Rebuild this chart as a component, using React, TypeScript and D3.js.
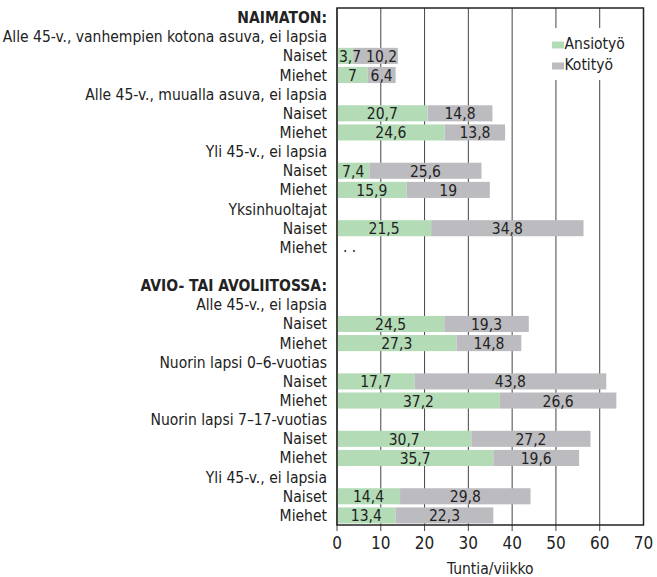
import React from 'react';
import * as d3 from 'd3';

const labels = [
  'NAIMATON:',
  'Alle 45-v., vanhempien kotona asuva, ei lapsia',
  'Naiset', 'Miehet',
  'Alle 45-v., muualla asuva, ei lapsia',
  'Naiset', 'Miehet',
  'Yli 45-v., ei lapsia',
  'Naiset', 'Miehet',
  'Yksinhuoltajat',
  'Naiset', 'Miehet',
  '',
  'AVIO- TAI AVOLIITOSSA:',
  'Alle 45-v., ei lapsia',
  'Naiset', 'Miehet',
  'Nuorin lapsi 0–6-vuotias',
  'Naiset', 'Miehet',
  'Nuorin lapsi 7–17-vuotias',
  'Naiset', 'Miehet',
  'Yli 45-v., ei lapsia',
  'Naiset', 'Miehet',
];
const headerRows = [0, 14];
const missingRows = [12];

const ansiotyo: (number | null)[] = [
  null, null, 3.7, 7, null, 20.7, 24.6, null, 7.4, 15.9, null, 21.5, null, null,
  null, null, 24.5, 27.3, null, 17.7, 37.2, null, 30.7, 35.7, null, 14.4, 13.4,
];
const kotityo: (number | null)[] = [
  null, null, 10.2, 6.4, null, 14.8, 13.8, null, 25.6, 19, null, 34.8, null, null,
  null, null, 19.3, 14.8, null, 43.8, 26.6, null, 27.2, 19.6, null, 29.8, 22.3,
];
const ticks = [0, 10, 20, 30, 40, 50, 60, 70];
const seriesNames = ['Ansiotyö', 'Kotityö'];
const colors = ['#b3dbb6', '#bcbcc0'];

const W = 657, H = 577;
const FONT = '"DejaVu Sans Condensed", "Liberation Sans Narrow", sans-serif';
const fmt = (v: number) => String(v).replace('.', ',');
// rough text width for value labels at 15.5px
const textW = (s: string) => s.split('').reduce((w, c) => w + (c === ',' ? 4.5 : 8.8), 0);

export default function App() {
  const x = d3.scaleLinear().domain([0, 70]).range([337, 643.5]);
  const y = d3.scaleBand<number>().domain(labels.map((_, i) => i)).range([8, 525]).paddingInner(0.16).paddingOuter(0.08);
  const bw = y.bandwidth();
  const labelX = 327;
  const top = 8, bottom = 525;

  return (
    <svg width={W} height={H} style={{ position: 'absolute', left: 0, top: 0 }} fontFamily={FONT}>
      <rect width={W} height={H} fill="#fff" />
      {/* grid */}
      {ticks.slice(0, -1).map(t => (
        <line key={t} x1={x(t)} x2={x(t)} y1={top} y2={bottom + 6} stroke="#444" strokeWidth={1} />
      ))}
      {/* legend background hides grid */}
      <rect x={549} y={28} width={80} height={52} fill="#fff" />
      {seriesNames.map((s, i) => (
        <g key={s} transform={`translate(552,${41.5 + i * 21})`}>
          <rect x={0} y={0} width={12} height={7} fill={colors[i]} />
          <text x={12.5} y={7} fontSize={15.5} fill="#222">{s}</text>
        </g>
      ))}
      {/* bars */}
      {labels.map((_, i) => {
        const a = ansiotyo[i], k = kotityo[i];
        if (a == null || k == null) return null;
        const y0 = y(i)!;
        const cy = y0 + bw / 2 + 6;
        const aw = textW(fmt(a)), kw = textW(fmt(k));
        const ax = Math.max((x(0) + x(a)) / 2, x(0) + 2 + aw / 2);
        const kx = Math.max((x(a) + x(a + k)) / 2, ax + aw / 2 + 5 + kw / 2);
        return (
          <g key={i}>
            <rect x={x(0)} y={y0} width={x(a) - x(0)} height={bw} fill={colors[0]} />
            <rect x={x(a)} y={y0} width={x(a + k) - x(a)} height={bw} fill={colors[1]} />
            <text x={ax} y={cy} textAnchor="middle" fontSize={15.5} fill="#222">{fmt(a)}</text>
            <text x={kx} y={cy} textAnchor="middle" fontSize={15.5} fill="#222">{fmt(k)}</text>
          </g>
        );
      })}
      {missingRows.map(i => (
        <text key={i} x={x(0) + 6} y={y(i)! + bw / 2 + 5} fontSize={15.5} fill="#222">. .</text>
      ))}
      {/* frame */}
      <rect x={x(0)} y={top} width={x(70) - x(0)} height={bottom - top} fill="none" stroke="#222" strokeWidth={1.5} />
      {/* row labels */}
      {labels.map((l, i) => (
        <text key={i} x={labelX} y={y(i)! + bw / 2 + 5.5} textAnchor="end" fontSize={15.5}
          fontWeight={headerRows.includes(i) ? 'bold' : 'normal'} fill="#222">{l}</text>
      ))}
      {/* x axis */}
      {ticks.map(t => (
        <text key={t} x={x(t)} y={549} textAnchor="middle" fontSize={17} fill="#222">{t}</text>
      ))}
      <text x={(x(0) + x(70)) / 2} y={574} textAnchor="middle" fontSize={15.5} fill="#222">Tuntia/viikko</text>
    </svg>
  );
}
